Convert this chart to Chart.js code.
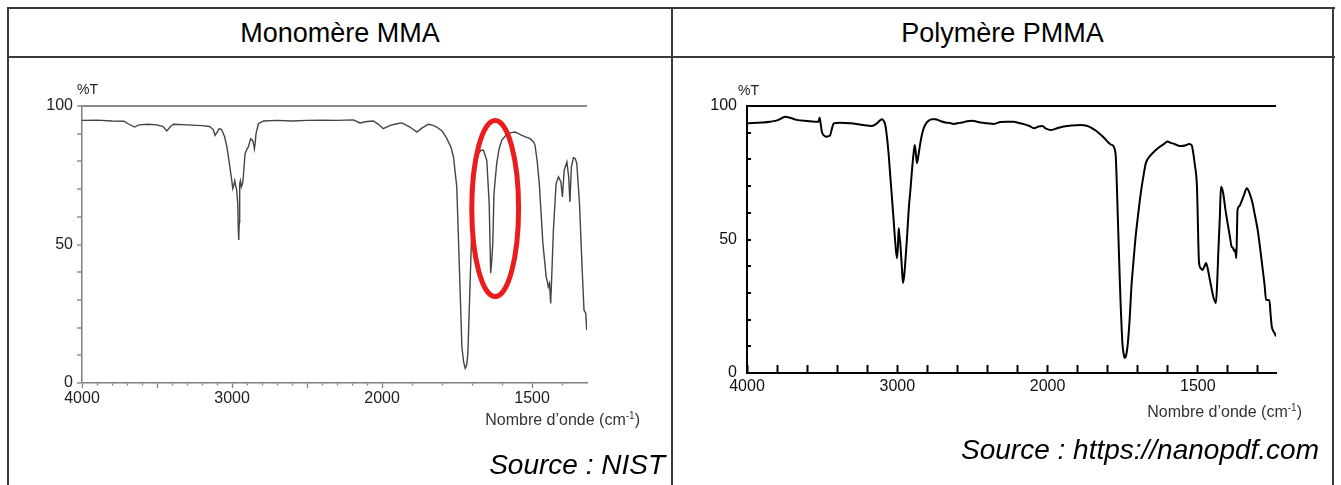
<!DOCTYPE html>
<html><head><meta charset="utf-8">
<script src="https://cdn.jsdelivr.net/npm/chart.js@4/dist/chart.umd.min.js"></script>
<style>
html,body{margin:0;padding:0;background:#fff;width:1341px;height:485px;overflow:hidden;font-family:"Liberation Sans",Arial,sans-serif;}
.hl{position:absolute;height:2px;background:#3a3a3a;}
.vl{position:absolute;width:2px;background:#3a3a3a;}
.title{position:absolute;top:9px;height:48px;line-height:48px;font-size:27px;color:#000;text-align:center;}
.txt{position:absolute;white-space:nowrap;color:#222;}
.pt{font-size:14px;height:16px;line-height:16px;}
.ax{font-size:16px;height:20px;line-height:20px;color:#333;}
.ax sup{font-size:10px;vertical-align:6px;line-height:0;}
.src{font-size:28px;font-style:italic;height:34px;line-height:34px;color:#000;}
canvas{position:absolute;}
</style>
</head><body>
<div class="hl" style="left:7px;top:7px;width:1328px;"></div>
<div class="hl" style="left:7px;top:56px;width:1328px;"></div>
<div class="vl" style="left:7px;top:7px;height:478px;"></div>
<div class="vl" style="left:671px;top:7px;height:478px;"></div>
<div class="vl" style="left:1332px;top:7px;height:478px;"></div>
<div class="title" style="left:8px;width:664px;">Monomère MMA</div>
<div class="title" style="left:672px;width:661px;">Polymère PMMA</div>

<canvas id="cLeft" width="672" height="425" style="left:0px;top:60px;width:672px;height:425px;"></canvas>
<canvas id="cRight" width="661" height="425" style="left:672px;top:60px;width:661px;height:425px;"></canvas>

<div class="txt pt" style="left:77px;top:81px;">%T</div>
<div class="txt pt" style="left:738px;top:82px;">%T</div>
<div class="txt ax" style="right:701px;top:410px;">Nombre d’onde (cm<sup>-1</sup>)</div>
<div class="txt ax" style="right:39px;top:402px;">Nombre d’onde (cm<sup>-1</sup>)</div>
<div class="txt src" style="right:676px;top:448px;">Source : NIST</div>
<div class="txt src" style="right:22px;top:433px;">Source : https://nanopdf.com</div>

<script>
// ---------- data ----------
const MMA_WAVENUMBER = [4000,3900,3800,3720,3690,3650,3620,3560,3500,3460,3435,3410,3390,3300,3200,3150,3125,3113,3100,3085,3070,3050,3035,3024,3012,3002,2995,2988,2982,2975,2969,2962,2958,2955,2952,2949,2944,2938,2930,2925,2913,2900,2891,2876,2862,2855,2851,2846,2840,2824,2790,2700,2600,2500,2400,2300,2191,2147,2100,2058,2020,1996,1973,1950,1934,1907,1884,1865,1846,1830,1818,1800,1784,1770,1762,1751,1742,1734,1728,1723,1718,1714,1707,1699,1690,1679,1670,1662,1651,1643,1638,1634,1631,1627,1618,1610,1601,1585,1573,1557,1545,1534,1520,1507,1495,1490,1483,1476,1464,1453,1449,1446,1442,1438,1434,1429,1420,1412,1404,1399,1393,1384,1378,1374,1369,1362,1356,1351,1342,1333,1327,1321,1318];
const MMA_TRANSMITTANCE = [94.8,94.9,94.6,94.5,93.5,92.4,93.2,93.4,93.2,92.6,91.0,92.6,93.4,93.2,92.9,92.6,91.5,89.4,90.5,91.8,91.5,89.0,85.5,81.6,77.0,73.2,70.2,71.5,73.0,71.0,69.6,65,55,51.6,58,72,73,70.8,72,74.4,82.8,84.5,85.2,88.2,87.5,86,84.6,86.5,90,93.6,94.6,94.8,94.6,94.8,94.9,94.8,95.0,93.9,94.4,94.6,93.2,91.8,93.0,93.6,93.9,92.4,90.6,92.2,93.4,93.0,92.4,91.0,88.2,85.0,81.6,70.8,40.7,13.1,7.5,5.3,6.5,10.7,34.7,62.4,78.0,82.8,84.0,84.0,80.4,64.8,39.6,45,50.4,68.4,79.2,84.5,87.6,89.8,90.3,90.6,90.0,89.4,88.8,88.2,87.0,85.8,80,72.0,50.4,38.3,36.5,34.7,36.0,28.7,40,55.2,72.0,74.4,72.6,67.2,76.8,79.8,74.4,65.4,78.0,81.4,81,79.2,64.8,40.7,26.3,25.1,19.1];

const PMMA_WAVENUMBER = [4000,3900,3847,3790,3747,3710,3669,3600,3524,3517,3510,3502,3488,3473,3455,3447,3435,3424,3380,3313,3240,3169,3136,3115,3102,3090,3080,3070,3058,3047,3036,3024,3013,3002,2996,2991,2985,2980,2970,2962,2955,2947,2935,2924,2912,2902,2892,2884,2876,2869,2858,2847,2835,2824,2805,2791,2770,2747,2710,2680,2650,2624,2595,2569,2535,2502,2470,2447,2400,2358,2313,2269,2225,2190,2158,2120,2091,2060,2035,2010,1990,1970,1946,1920,1890,1870,1857,1840,1823,1810,1801,1790,1781,1776,1773,1766,1759,1751,1747,1743,1739,1734,1727,1721,1714,1707,1698,1690,1680,1673,1660,1651,1637,1623,1610,1601,1590,1579,1568,1557,1540,1529,1520,1518,1510,1503,1496,1490,1484,1478,1473,1468,1462,1455,1449,1444,1440,1436,1432,1427,1423,1418,1414,1408,1401,1394,1388,1383,1379,1376,1372,1370,1368,1362,1357,1347,1337,1327,1318,1310,1301,1292,1284,1278,1273,1262,1258,1254,1248,1244,1240];
const PMMA_TRANSMITTANCE = [93.5,93.8,94.1,94.8,96.0,95.5,94.8,94.4,94.1,95.6,93.5,90.4,89.0,88.5,88.7,89.0,91.5,93.5,93.7,93.5,93.0,92.5,93.5,94.6,95.0,94.4,92.9,89,82.3,74,66.1,57,48.6,43.0,47,54.2,51,48.6,40,33.7,36,41.2,51,61.1,69,76.1,82,85.4,82,78.6,82,86.0,89.5,91.7,93.8,94.5,95.0,95.0,94.3,93.8,93.6,93.3,93.6,93.8,94.3,94.5,94.1,93.8,93.5,93.3,94.0,94.1,94.1,93.6,93.2,92.5,91.7,92.3,92.5,91.5,91.0,91.6,92.3,92.7,92.9,92.6,92.0,90.8,89.2,87.8,86.7,85.6,85.0,83.5,81.0,57.4,32.4,11.2,7.2,5.6,6.5,10.0,20,32.4,42,51.1,60,67.3,74.5,78.6,81.2,82.3,83.8,85.0,86.0,86.7,86.2,85.8,85.3,85.0,85.3,85.8,85.2,84.2,78,69.8,41.2,39.2,38.6,40.0,41.2,39.5,36.1,32,28.7,27,26.2,33,44.9,58,69.8,68.5,66.1,61,56.1,51.5,47.4,46.8,45.6,46.2,43.0,52,61.1,62.5,63.6,66.5,69.2,67,63.6,59,53.6,46,38.6,33,27.4,27.2,22,17.4,15.5,14.8,13.7];

// axis ranges and ticks
const MMA_RANGE = [1317, 4000];
const PMMA_RANGE = [1240, 4000];
const SCALE_BREAK = 2000; // below this wavenumber the axis is expanded x2
const MMA_X_TICKS = [4000,3900,3800,3700,3600,3500,3400,3300,3200,3100,3000,2900,2800,2700,2600,2500,2400,2300,2200,2100,2000,1900,1800,1700,1600,1500,1400];
const MMA_X_MAJOR = [4000,3500,3000,2500,2000,1500];
const PMMA_X_TICKS = [4000,3800,3600,3400,3200,3000,2800,2600,2400,2200,2000,1900,1800,1700,1600,1500,1400,1300];
const X_TICK_LABELS = [4000,3000,2000,1500];
const Y_TICK_LABELS = [0,50,100];
// highlight ellipse around the 1640 cm-1 band (in data units)
const HIGHLIGHT = {wn: 1623, t: 63, halfWn: 78, halfT: 31.8};

// ---------- custom IR axis (expanded below 2000 cm-1) ----------
class IRScale extends Chart.LinearScale {
  _irUnits(v) {
    return v >= SCALE_BREAK ? (v - SCALE_BREAK) + 2 * (SCALE_BREAK - this.min) : 2 * (v - this.min);
  }
  getPixelForValue(value) {
    if (value === null || value === undefined || isNaN(value)) return NaN;
    return this.getPixelForDecimal(this._irUnits(value) / this._irUnits(this.max));
  }
  getValueForPixel(pixel) {
    const u = this.getDecimalForPixel(pixel) * this._irUnits(this.max);
    const ub = 2 * (SCALE_BREAK - this.min);
    return u <= ub ? this.min + u / 2 : SCALE_BREAK + (u - ub);
  }
}
IRScale.id = 'irbreak';
IRScale.defaults = {};
Chart.register(IRScale);

const ellipsePlugin = {
  id: 'highlightEllipse',
  afterDatasetsDraw(chart, args, opts) {
    if (!opts || !opts.show) return;
    const xs = chart.scales.x, ys = chart.scales.y, ctx = chart.ctx;
    const x1 = xs.getPixelForValue(HIGHLIGHT.wn + HIGHLIGHT.halfWn);
    const x2 = xs.getPixelForValue(HIGHLIGHT.wn - HIGHLIGHT.halfWn);
    const y1 = ys.getPixelForValue(HIGHLIGHT.t + HIGHLIGHT.halfT);
    const y2 = ys.getPixelForValue(HIGHLIGHT.t - HIGHLIGHT.halfT);
    ctx.save();
    ctx.beginPath();
    ctx.ellipse((x1 + x2) / 2, (y1 + y2) / 2, Math.abs(x2 - x1) / 2, Math.abs(y2 - y1) / 2, 0, 0, Math.PI * 2);
    ctx.strokeStyle = '#ec1c1c';
    ctx.lineWidth = 5;
    ctx.stroke();
    ctx.restore();
  }
};

function points(xs, ys) { return xs.map((x, i) => ({x: x, y: ys[i]})); }

function makeChart(id, o) {
  return new Chart(document.getElementById(id), {
    type: 'line',
    data: { datasets: [{
      data: points(o.wn, o.t),
      borderColor: o.lineColor, borderWidth: o.lineWidth,
      pointRadius: 0, fill: false,
      tension: o.tension, cubicInterpolationMode: o.cubic ? 'monotone' : 'default'
    }]},
    plugins: [ellipsePlugin],
    options: {
      responsive: false, animation: false, devicePixelRatio: 1,
      layout: { padding: o.padding },
      plugins: { legend: {display: false}, tooltip: {enabled: false}, title: {display: false},
        highlightEllipse: { show: o.ellipse } },
      scales: {
        x: {
          type: 'irbreak', reverse: true, min: o.range[0], max: o.range[1], bounds: 'data',
          afterBuildTicks: (s) => { s.ticks = o.xticks.map(v => ({value: v})); },
          afterFit: (s) => { s.height = 30; },
          border: { display: true, color: o.axisColor, width: o.axisWidth },
          grid: { drawOnChartArea: false, drawTicks: true, tickLength: o.xTickLen,
            tickColor: o.axisColor, tickWidth: o.tickWidth,
            tickBorderDash: (c) => (o.xmajor && !o.xmajor.includes(c.tick.value)) ? [2, 20] : [] },
          ticks: { autoSkip: false, maxRotation: 0, minRotation: 0, padding: o.xPad,
            color: o.labelColor, font: {family: 'Liberation Sans, Arial, sans-serif', size: 16},
            callback: (v) => X_TICK_LABELS.includes(v) ? String(v) : '' }
        },
        y: {
          min: 0, max: 100,
          afterFit: (s) => { s.width = 50; },
          border: { display: true, color: o.axisColor, width: o.axisWidth },
          grid: { drawOnChartArea: true, drawTicks: true, tickLength: o.yTickLen,
            color: (c) => c.tick && c.tick.value === 100 ? o.topColor : 'rgba(0,0,0,0)',
            lineWidth: (c) => c.tick && c.tick.value === 100 ? o.topWidth : 0,
            tickColor: o.axisColor, tickWidth: o.tickWidth },
          ticks: { stepSize: 10, autoSkip: false, padding: o.yPad,
            color: o.labelColor, font: {family: 'Liberation Sans, Arial, sans-serif', size: 16},
            callback: (v) => Y_TICK_LABELS.includes(v) ? String(v) : '' }
        }
      }
    }
  });
}

makeChart('cLeft', {
  wn: MMA_WAVENUMBER, t: MMA_TRANSMITTANCE, range: MMA_RANGE,
  xticks: MMA_X_TICKS, xmajor: MMA_X_MAJOR,
  lineColor: '#444', lineWidth: 1.4, tension: 0, cubic: false,
  axisColor: '#808080', axisWidth: 1.5, tickWidth: 1.3, topColor: '#8a8a8a', topWidth: 2,
  labelColor: '#222', xTickLen: 5, yTickLen: 5, xPad: 1, yPad: 4,
  padding: {left: 32, top: 46, right: 85, bottom: 72}, ellipse: true
});

makeChart('cRight', {
  wn: PMMA_WAVENUMBER, t: PMMA_TRANSMITTANCE, range: PMMA_RANGE,
  xticks: PMMA_X_TICKS, xmajor: null,
  lineColor: '#000', lineWidth: 2, tension: 0.4, cubic: true,
  axisColor: '#000', axisWidth: 2, tickWidth: 2, topColor: '#000', topWidth: 2,
  labelColor: '#111', xTickLen: -8, yTickLen: -4, xPad: 12, yPad: 14,
  padding: {left: 25, top: 46, right: 57, bottom: 82}, ellipse: false
});
</script>
</body></html>
